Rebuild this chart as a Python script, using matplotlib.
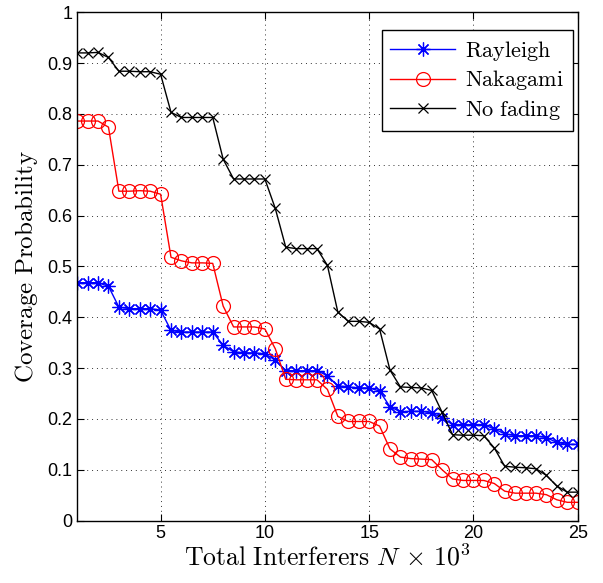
import matplotlib
matplotlib.use("Agg")
import matplotlib.pyplot as plt
import numpy as np

# Data
interferers = [1.0, 1.5, 2.0, 2.5, 3.0, 3.5, 4.0, 4.5, 5.0, 5.5, 6.0, 6.5, 7.0, 7.5,
               8.0, 8.5, 9.0, 9.5, 10.0, 10.5, 11.0, 11.5, 12.0, 12.5, 13.0, 13.5,
               14.0, 14.5, 15.0, 15.5, 16.0, 16.5, 17.0, 17.5, 18.0, 18.5, 19.0,
               19.5, 20.0, 20.5, 21.0, 21.5, 22.0, 22.5, 23.0, 23.5, 24.0, 24.5, 25.0]

rayleigh = [0.468, 0.468, 0.468, 0.461, 0.420, 0.417, 0.417, 0.417, 0.414, 0.374,
            0.371, 0.371, 0.371, 0.371, 0.345, 0.332, 0.330, 0.330, 0.328, 0.316,
            0.295, 0.295, 0.295, 0.295, 0.285, 0.265, 0.263, 0.261, 0.261, 0.255,
            0.224, 0.214, 0.215, 0.215, 0.212, 0.202, 0.189, 0.189, 0.189, 0.189,
            0.180, 0.171, 0.167, 0.167, 0.167, 0.163, 0.154, 0.150, 0.150]

nakagami = [0.786, 0.786, 0.786, 0.774, 0.648, 0.648, 0.649, 0.648, 0.642, 0.518,
            0.511, 0.507, 0.507, 0.506, 0.422, 0.381, 0.381, 0.381, 0.377, 0.338,
            0.278, 0.277, 0.277, 0.277, 0.258, 0.205, 0.195, 0.195, 0.195, 0.186,
            0.141, 0.125, 0.122, 0.121, 0.120, 0.100, 0.082, 0.079, 0.079, 0.079,
            0.073, 0.058, 0.054, 0.054, 0.054, 0.051, 0.041, 0.036, 0.036]

no_fading = [0.920, 0.920, 0.921, 0.911, 0.884, 0.884, 0.883, 0.883, 0.878, 0.803,
             0.793, 0.793, 0.793, 0.793, 0.711, 0.672, 0.672, 0.672, 0.672, 0.614,
             0.538, 0.535, 0.535, 0.535, 0.502, 0.410, 0.392, 0.392, 0.390, 0.377,
             0.296, 0.263, 0.262, 0.261, 0.256, 0.213, 0.169, 0.168, 0.168, 0.167,
             0.143, 0.107, 0.105, 0.104, 0.102, 0.089, 0.068, 0.056, 0.056]

xticks = [5, 10, 15, 20, 25]
yticks = [0, 0.1, 0.2, 0.3, 0.4, 0.5, 0.6, 0.7, 0.8, 0.9, 1.0]
ytick_labels = ["0", "0.1", "0.2", "0.3", "0.4", "0.5", "0.6", "0.7", "0.8", "0.9", "1"]

plt.rcParams['mathtext.fontset'] = 'cm'
plt.rcParams['font.family'] = ['Liberation Sans', 'DejaVu Sans']

fig = plt.figure(figsize=(6.03, 5.83), dpi=100)
ax = fig.add_axes([0.128, 0.107, 0.830, 0.872])

asterisk = (8, 2, 0)
ax.plot(interferers, rayleigh, color='blue', marker=asterisk, markersize=10, lw=1.0,
        markeredgewidth=0.9, label=r'$\mathrm{Rayleigh}$')
ax.plot(interferers, nakagami, color='red', marker='o', markersize=10, lw=1.0,
        markerfacecolor='none', markeredgewidth=0.9, label=r'$\mathrm{Nakagami}$')
ax.plot(interferers, no_fading, color='black', marker='x', markersize=7, lw=1.0,
        markeredgewidth=0.9, label=r'$\mathrm{No\ fading}$')

ax.set_xlim(1, 25)
ax.set_ylim(0, 1)
ax.set_xticks(xticks)
ax.set_xticklabels([str(t) for t in xticks])
ax.set_yticks(yticks)
ax.set_yticklabels(ytick_labels)
ax.tick_params(direction='in', top=True, right=True, labelsize=13, length=5, width=0.8)
ax.grid(True, linestyle=(0, (1, 4)), color='black', linewidth=0.7, alpha=0.8)
for s in ax.spines.values():
    s.set_linewidth(1.0)

ax.set_xlabel(r'$\mathrm{Total\ Interferers}\ N\,\times\,10^3$', fontsize=18.5, labelpad=1)
ax.set_ylabel(r'$\mathrm{Coverage\ Probability}$', fontsize=18, labelpad=5)

leg = ax.legend(loc='upper right', fontsize=16, fancybox=False, framealpha=1,
                edgecolor='black', borderpad=0.4, handlelength=2.9,
                labelspacing=0.25, handletextpad=0.45, borderaxespad=0,
                bbox_to_anchor=(0.99, 0.965))
leg.get_frame().set_linewidth(1.0)

fig.savefig('out.png', dpi=100)
